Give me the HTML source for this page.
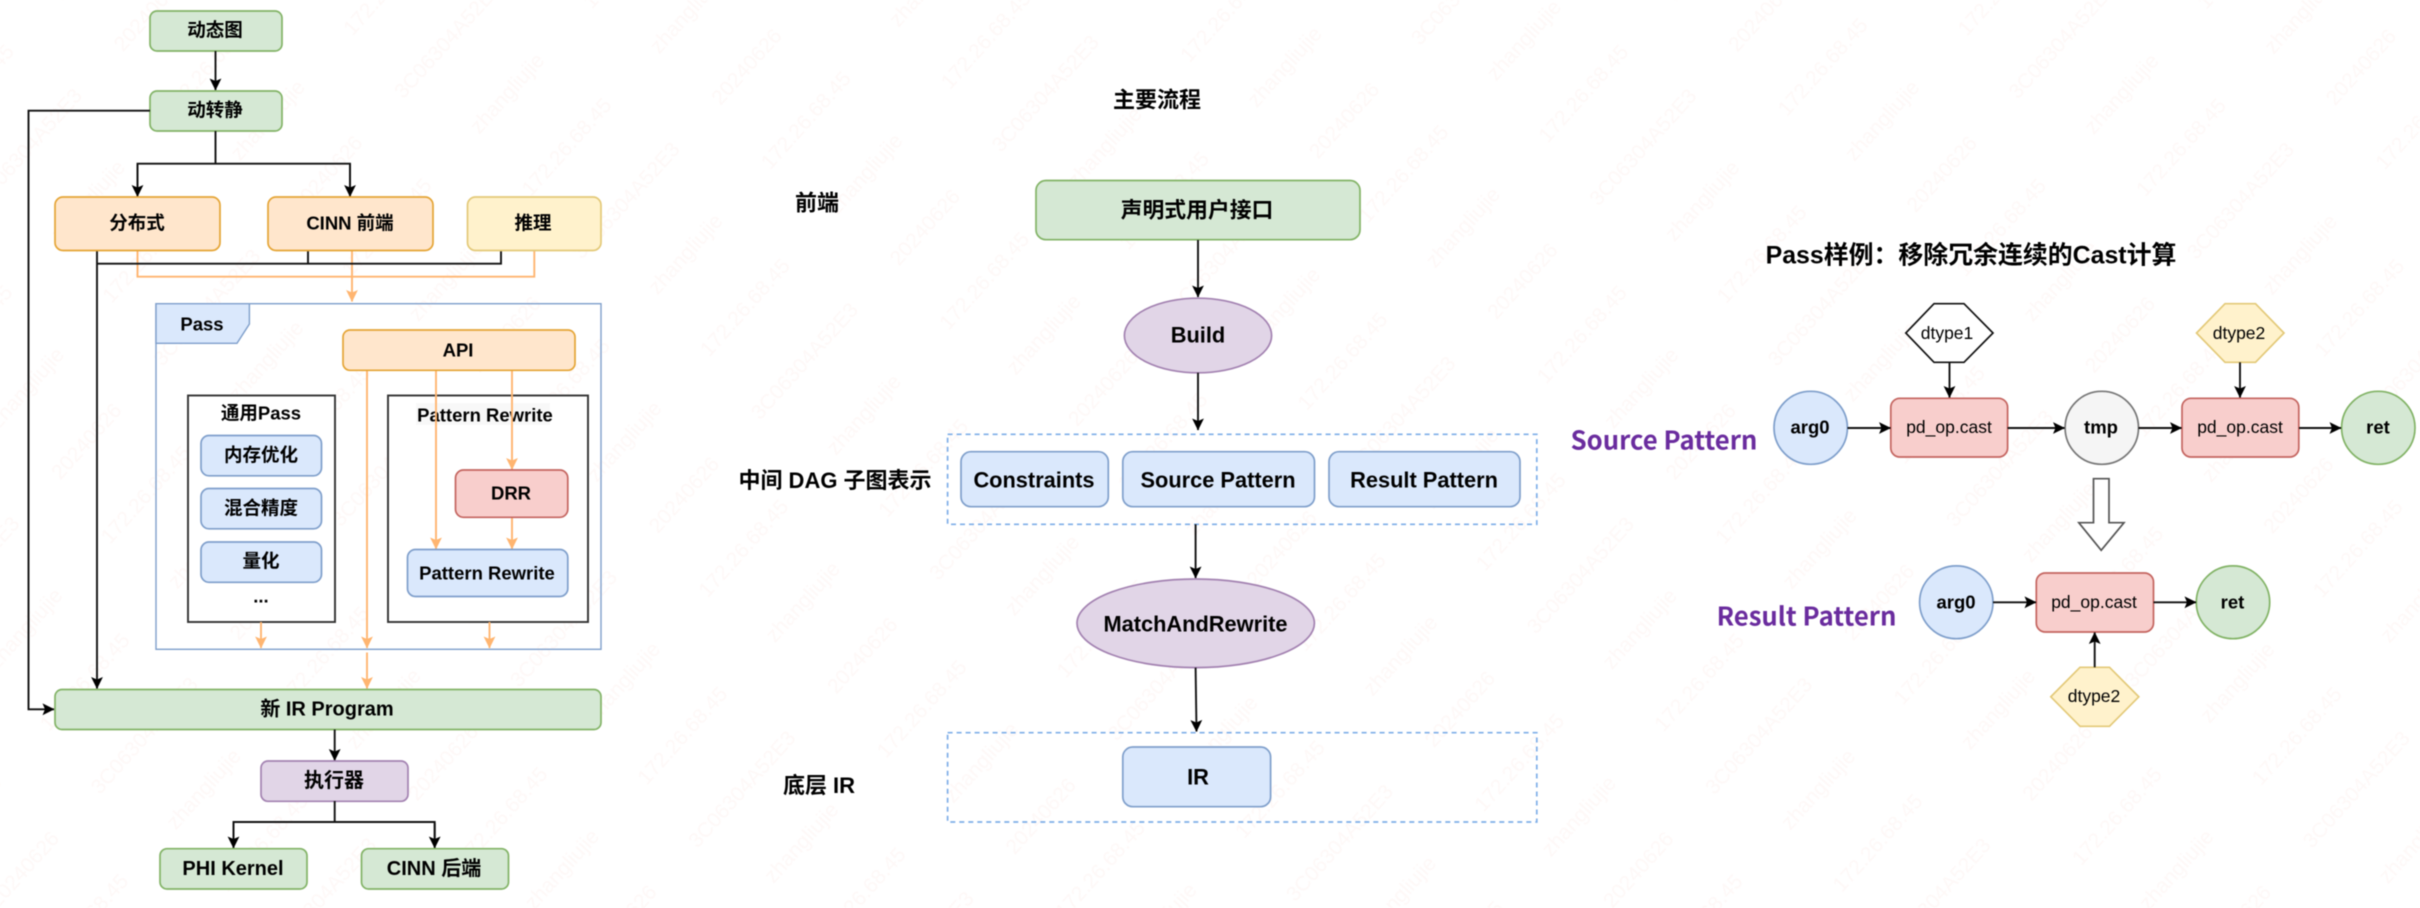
<!DOCTYPE html>
<html><head><meta charset="utf-8"><style>
html,body{margin:0;padding:0;background:#fff;width:2420px;height:908px;overflow:hidden}
svg{display:block;filter:blur(.65px)}
text{font-family:"Liberation Sans","Noto Sans CJK SC",sans-serif;font-weight:700;fill:#000;text-anchor:middle;dominant-baseline:central}
.s18{font-size:18.5px}.s19{font-size:20px}.s20{font-size:22px}.s22{font-size:21.8px}
.n{font-weight:400;font-size:17.5px}
.p{fill:#6a2c9e;font-size:25.7px;font-family:"Noto Sans CJK SC","Liberation Sans",sans-serif}
.w{fill:#fef8f7;font-size:21px;font-weight:400}
.g{fill:#d5e8d4;stroke:#82b366;stroke-width:1.7}
.o{fill:#ffe6cc;stroke:#e5a536;stroke-width:1.7}
.y{fill:#fff2cc;stroke:#e3c978;stroke-width:1.7}
.b{fill:#dae8fc;stroke:#7f9fcb;stroke-width:1.7}
.r{fill:#f8cecc;stroke:#c4645f;stroke-width:1.7}
.u{fill:#e1d5e7;stroke:#a382b1;stroke-width:1.7}
.k{fill:none;stroke:#111;stroke-width:1.9}
.a{fill:none;stroke:#ffb570;stroke-width:1.9}
.box{fill:#fff;stroke:#333;stroke-width:1.9}
.d{fill:none;stroke:#7eaee8;stroke-width:1.7;stroke-dasharray:5 4}
</style></head><body>
<svg width="2420" height="908" viewBox="0 0 2420 908" xmlns="http://www.w3.org/2000/svg">
<defs>
<marker id="mk" markerUnits="userSpaceOnUse" markerWidth="13" markerHeight="13" viewBox="0 0 13 13" refX="12" refY="6.5" orient="auto"><path d="M12.5,6.5 L.5,.6 L3,6.5 L.5,12.4 Z" fill="#000"/></marker>
<marker id="mo" markerUnits="userSpaceOnUse" markerWidth="13" markerHeight="13" viewBox="0 0 13 13" refX="12" refY="6.5" orient="auto"><path d="M12.5,6.5 L.5,.6 L3,6.5 L.5,12.4 Z" fill="#ffb570"/></marker>
<pattern id="wm" patternUnits="userSpaceOnUse" width="360" height="240" patternTransform="rotate(-48)">
<text class="w" x="90" y="40">zhangliujie</text>
<text class="w" x="270" y="40">172.26.68.45</text>
<text class="w" x="90" y="120">20240626</text>
<text class="w" x="270" y="120">3C06304A52E3</text>
<text class="w" x="90" y="200">172.26.68.45</text>
<text class="w" x="270" y="200">zhangliujie</text>
</pattern>
</defs>
<rect width="2420" height="908" fill="url(#wm)"/>

<!-- LEFT -->
<rect class="g" x="150" y="11" width="132" height="40" rx="7"/><text class="s18" x="215" y="30">动态图</text>
<path class="k" d="M215.5,51V90" marker-end="url(#mk)"/>
<rect class="g" x="150" y="91" width="132" height="40" rx="7"/><text class="s18" x="215" y="110">动转静</text>
<path class="k" d="M150,110.7H28.5V709.3H54" marker-end="url(#mk)"/>
<path class="k" d="M215.5,131V163.7M137.5,190V163.7H350V190" />
<path class="k" d="M137.5,164V196.5" marker-end="url(#mk)"/>
<path class="k" d="M350,164V196.5" marker-end="url(#mk)"/>

<path class="a" d="M137.5,251V276.7H534.3V251"/>
<path class="a" d="M352,251V301.5" marker-end="url(#mo)"/>
<path class="k" d="M97,251V688.5" marker-end="url(#mk)"/>
<path class="k" d="M97,263.7H501V251M308,263.7V251"/>

<rect class="o" x="55" y="197" width="165" height="53.5" rx="8"/><text class="s18" x="137" y="223">分布式</text>
<rect class="o" x="268" y="197" width="165" height="53.5" rx="8"/><text class="s18" x="350" y="223">CINN 前端</text>
<rect class="y" x="467.500" y="197" width="133.500" height="53.5" rx="8"/><text class="s18" x="533" y="223">推理</text>

<rect x="156" y="303.7" width="445" height="345.6" fill="none" stroke="#7f9fcb" stroke-width="1.4"/>
<path d="M156,303.7H249.4V324L237,343.3H156Z" fill="#dae8fc" stroke="#7f9fcb" stroke-width="1.4"/>
<text class="s18" x="202" y="324">Pass</text>

<rect class="box" x="188" y="395.500" width="147" height="226.500"/>
<rect class="box" x="388" y="395.500" width="200" height="226.500"/>
<text class="s18" x="261" y="413">通用Pass</text>
<rect x="416" y="403" width="134" height="22" fill="#f8f8f8"/>
<text class="s18" x="485" y="415">Pattern Rewrite</text>

<path class="a" d="M367,370V648" marker-end="url(#mo)"/>
<path class="a" d="M436,370V549" marker-end="url(#mo)"/>
<path class="a" d="M512,370V469.5" marker-end="url(#mo)"/>
<path class="a" d="M512,517.500V549" marker-end="url(#mo)"/>
<path class="a" d="M261,622V648" marker-end="url(#mo)"/>
<path class="a" d="M489.500,622V648" marker-end="url(#mo)"/>
<path class="a" d="M367,652.500V688.5" marker-end="url(#mo)"/>

<rect class="o" x="343" y="330" width="232" height="40.300" rx="7"/><text class="s18" x="458" y="350">API</text>
<rect class="b" x="201" y="435.500" width="120.500" height="40.300" rx="8"/><text class="s18" x="261" y="455">内存优化</text>
<rect class="b" x="201" y="488.500" width="120.500" height="40.300" rx="8"/><text class="s18" x="261" y="508">混合精度</text>
<rect class="b" x="201" y="542" width="120.500" height="40.300" rx="8"/><text class="s18" x="261" y="561">量化</text>
<text class="s18" x="261" y="596">...</text>
<rect class="r" x="455.500" y="470" width="112.300" height="47.300" rx="8"/><text class="s18" x="511" y="493">DRR</text>
<rect class="b" x="407.500" y="549.500" width="160.300" height="47" rx="8"/><text class="s18" x="487" y="573">Pattern Rewrite</text>

<rect class="g" x="55" y="689.500" width="546" height="40" rx="7"/><text class="s19" x="327" y="709.5">新 IR Program</text>
<path class="k" d="M334.700,729.500V760.500" marker-end="url(#mk)"/>
<rect class="u" x="261" y="761" width="147" height="40.300" rx="7"/><text class="s19" x="334" y="781">执行器</text>
<path class="k" d="M334.700,801V822M233.500,840V822H434.700V840"/>
<path class="k" d="M233.500,823V848" marker-end="url(#mk)"/>
<path class="k" d="M434.700,823V848" marker-end="url(#mk)"/>
<rect class="g" x="160" y="848.700" width="147" height="40.300" rx="7"/><text class="s19" x="233" y="869">PHI Kernel</text>
<rect class="g" x="361.500" y="848.700" width="147" height="40.300" rx="7"/><text class="s19" x="434" y="869">CINN 后端</text>

<!-- MIDDLE -->
<text class="s20" x="1157" y="100">主要流程</text>
<text class="s20" x="817" y="203">前端</text>
<rect class="g" x="1036" y="180.500" width="324" height="59.200" rx="10"/><text class="s22" x="1197" y="210">声明式用户接口</text>
<path class="k" d="M1198,240V297" marker-end="url(#mk)"/>
<ellipse class="u" cx="1198" cy="335.500" rx="73.600" ry="37.300"/><text class="s22" x="1198" y="335">Build</text>
<path class="k" d="M1198,372.700V430" marker-end="url(#mk)"/>
<rect class="d" x="947.600" y="434.300" width="589.200" height="90"/>
<text class="s20" x="835" y="480.500">中间 DAG 子图表示</text>
<rect class="b" x="961" y="451.700" width="147.300" height="55" rx="10"/><text class="s22" x="1034" y="480">Constraints</text>
<rect class="b" x="1122.800" y="451.700" width="191.700" height="55" rx="10"/><text class="s22" x="1218" y="480">Source Pattern</text>
<rect class="b" x="1329" y="451.700" width="191" height="55" rx="10"/><text class="s22" x="1424" y="480">Result Pattern</text>
<path class="k" d="M1195.600,524.300V578" marker-end="url(#mk)"/>
<ellipse class="u" cx="1195.700" cy="623.300" rx="118.700" ry="44.300"/><text class="s22" x="1195.500" y="624">MatchAndRewrite</text>
<path class="k" d="M1195.600,667.700L1196.500,731.500" marker-end="url(#mk)"/>
<rect class="d" x="947.600" y="732.700" width="589.200" height="89.300"/>
<rect class="b" x="1122.800" y="747" width="147.800" height="59.700" rx="10"/><text class="s22" x="1198" y="777">IR</text>
<text class="s20" x="819" y="785.500">底层 IR</text>

<!-- RIGHT -->
<text x="1971" y="255.500" style="font-size:24.9px">Pass样例：移除冗余连续的Cast计算</text>
<text class="p" x="1664" y="439">Source Pattern</text>
<text class="p" x="1806.500" y="615">Result Pattern</text>

<polygon points="1934,303.700 1964,303.700 1993,333 1964,362.300 1934,362.300 1905.800,333" fill="#fff" stroke="#111" stroke-width="1.7"/><text class="n" x="1947" y="333">dtype1</text>
<polygon class="y" points="2225,303.700 2255.500,303.700 2284,333 2255.500,362.300 2225,362.300 2196.500,333"/><text class="n" x="2239" y="333">dtype2</text>
<path class="k" d="M1949.500,362.300V397.500" marker-end="url(#mk)"/>
<path class="k" d="M2240,362.300V397.500" marker-end="url(#mk)"/>

<ellipse class="b" cx="1810.700" cy="427.800" rx="36.700" ry="36.500"/><text class="s18" x="1810" y="427">arg0</text>
<rect class="r" x="1890.800" y="398.300" width="116.800" height="58.700" rx="9"/><text class="n" x="1949" y="427">pd_op.cast</text>
<ellipse cx="2101.800" cy="427.800" rx="36.700" ry="36.500" fill="#f5f5f5" stroke="#777" stroke-width="1.7"/><text class="s18" x="2101" y="427">tmp</text>
<rect class="r" x="2182" y="398.300" width="116.800" height="58.700" rx="9"/><text class="n" x="2240" y="427">pd_op.cast</text>
<ellipse class="g" cx="2378.300" cy="427.800" rx="36.700" ry="36.500"/><text class="s18" x="2378" y="427">ret</text>
<path class="k" d="M1847.500,428H1890.500" marker-end="url(#mk)"/>
<path class="k" d="M2007.600,428H2064.500" marker-end="url(#mk)"/>
<path class="k" d="M2138.500,428H2181.500" marker-end="url(#mk)"/>
<path class="k" d="M2299,428H2341" marker-end="url(#mk)"/>

<polygon points="2093.500,478.700 2109,478.700 2109,522.700 2124,522.700 2101.200,550.300 2078.800,522.700 2093.500,522.700" fill="#fff" stroke="#555" stroke-width="1.7"/>

<ellipse class="b" cx="1956.300" cy="602.300" rx="36.700" ry="36.400"/><text class="s18" x="1956" y="602">arg0</text>
<rect class="r" x="2036.300" y="573" width="117.200" height="59" rx="9"/><text class="n" x="2094" y="602">pd_op.cast</text>
<ellipse class="g" cx="2233" cy="602.300" rx="36.700" ry="36.400"/><text class="s18" x="2232.500" y="602">ret</text>
<path class="k" d="M1993,602.300H2036" marker-end="url(#mk)"/>
<path class="k" d="M2153.500,602.300H2196" marker-end="url(#mk)"/>
<polygon class="y" points="2080,667.300 2109.500,667.300 2138.800,696.800 2109.500,726.300 2080,726.300 2050.800,696.800"/><text class="n" x="2094" y="696">dtype2</text>
<path class="k" d="M2094.700,667.300V632.500" marker-end="url(#mk)"/>
</svg>
</body></html>
